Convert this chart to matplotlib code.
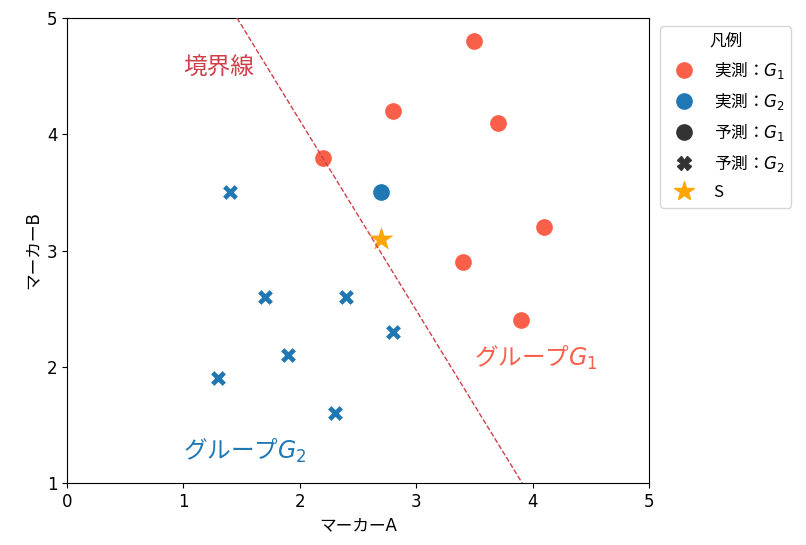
import numpy as np
import matplotlib
matplotlib.use("Agg")
import matplotlib.pyplot as plt
from matplotlib.lines import Line2D

plt.rcParams['font.family'] = ['DejaVu Sans', 'Noto Sans CJK JP']
plt.rcParams['mathtext.fontset'] = 'dejavusans'
plt.rcParams['font.size'] = 12

# actual G1 (all predicted G1)
g1_x = [3.5, 2.8, 3.7, 2.2, 4.1, 3.4, 3.9]
g1_y = [4.8, 4.2, 4.1, 3.8, 3.2, 2.9, 2.4]
# actual G2, predicted G1
g2c_x = [2.7]
g2c_y = [3.5]
# actual G2, predicted G2
g2x_x = [1.4, 1.7, 2.4, 2.8, 1.9, 1.3, 2.3]
g2x_y = [3.5, 2.6, 2.6, 2.3, 2.1, 1.9, 1.6]
# sample S
s_x = [2.7]
s_y = [3.1]
# boundary line y = b0 + b1*x
b0 = 7.385
b1 = -1.633

c_g1 = '#fa5f49'
c_g2 = '#1f77b4'
c_line = '#d0404a'
jp = 'Noto Sans CJK JP'

fig, ax = plt.subplots(figsize=(8.06, 5.45), dpi=100)
fig.subplots_adjust(left=67/806, right=649/806, top=1-18/545, bottom=1-483/545)

ax.scatter(g1_x, g1_y, s=165, marker='o', color=c_g1, edgecolors='white', linewidths=0.8, zorder=3)
ax.scatter(g2c_x, g2c_y, s=165, marker='o', color=c_g2, edgecolors='white', linewidths=0.8, zorder=3)
ax.scatter(g2x_x, g2x_y, s=140, marker='X', color=c_g2, edgecolors='white', linewidths=0.8, zorder=3)
ax.scatter(s_x, s_y, s=330, marker='*', color='orange', linewidths=0, zorder=3)

lx = np.array([0, 5])
ax.plot(lx, b0 + b1 * lx, linestyle='--', color=c_line, linewidth=1.0, zorder=4)

ax.text(1.0, 4.57, '境界線', color=c_line, fontsize=17, va='center', ha='left', family=jp)
ax.text(3.5, 2.08, 'グループ$G_1$', color=c_g1, fontsize=17, va='center', ha='left', family=jp)
ax.text(1.0, 1.28, 'グループ$G_2$', color=c_g2, fontsize=17, va='center', ha='left', family=jp)

ax.set_xlim(0, 5)
ax.set_ylim(1, 5)
ax.set_xticks([0, 1, 2, 3, 4, 5])
ax.set_yticks([1, 2, 3, 4, 5])
ax.set_xlabel('マーカーA')
ax.set_ylabel('マーカーB')

handles = [
    Line2D([], [], marker='o', linestyle='', color=c_g1, markersize=11),
    Line2D([], [], marker='o', linestyle='', color=c_g2, markersize=11),
    Line2D([], [], marker='o', linestyle='', color='#333333', markersize=11),
    Line2D([], [], marker='X', linestyle='', color='#333333', markersize=10),
    Line2D([], [], marker='*', linestyle='', color='orange', markersize=15),
]
labels = ['実測：$G_1$', '実測：$G_2$', '予測：$G_1$', '予測：$G_2$', 'S']
leg = ax.legend(handles, labels, title='凡例', loc='upper left', bbox_to_anchor=(1.005, 1.0),
                prop={'family': jp, 'size': 12}, labelspacing=0.6)
leg.get_title().set_family(jp)
leg.get_title().set_fontsize(12)

fig.savefig('out.png', dpi=100)
